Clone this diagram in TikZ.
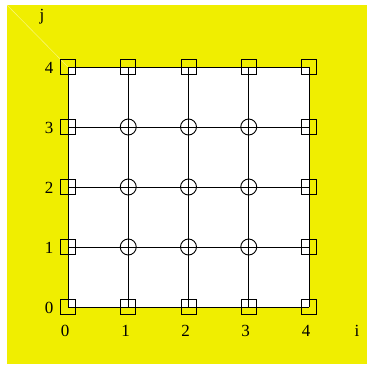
\documentclass[tikz,border=0pt]{standalone}
\usepackage{fontspec}
\setmainfont{Liberation Serif}
\definecolor{bgyellow}{RGB}{240,238,0}
\definecolor{diagline}{RGB}{248,246,110}
\begin{document}
\begin{tikzpicture}[x=1pt,y=-1pt,
  bnd/.style={draw=black,line width=0.9pt,minimum size=15pt,inner sep=0pt,rectangle},
  inr/.style={draw=black,line width=0.9pt,minimum size=16pt,inner sep=0pt,circle},
  gridline/.style={draw=black,line width=0.8pt},
  lbl/.style={font=\fontsize{17}{19}\selectfont,inner sep=0pt}]
\useasboundingbox (0,0) rectangle (367,365);
\fill[bgyellow] (7,5) rectangle (367,364);
\coordinate (tl) at (7,5);
% grid points
\foreach \i/\x in {0/68,1/128.25,2/188.5,3/248.75,4/309}{
  \foreach \j/\y in {0/307,1/247,2/187,3/127,4/67}{
    \coordinate (c\i\j) at (\x,\y);
  }
}
\fill[white] (c04) rectangle (c40);
\draw[diagline,line width=0.6pt] (tl) -- (c04);
% grid lines
\foreach \k in {0,...,4}{
  \draw[gridline] (c0\k) -- (c4\k);
  \draw[gridline] (c\k0) -- (c\k4);
}
% nodes
\foreach \i in {0,...,4}{
  \foreach \j in {0,...,4}{
    \pgfmathtruncatemacro{\isb}{(\i==0 || \i==4 || \j==0 || \j==4) ? 1 : 0}
    \ifnum\isb=1
      \node[bnd] (n\i\j) at (c\i\j) {};
    \else
      \node[inr] (n\i\j) at (c\i\j) {};
    \fi
  }
}
% axis labels
\foreach \i/\x in {0/65,1/125.5,2/185.5,3/245.5,4/306}{
  \node[lbl] (xl\i) at (\x,330.5) {\i};
}
\foreach \j/\y in {0/307.5,1/247.5,2/187.5,3/127.5,4/67.5}{
  \node[lbl] (yl\j) at (49,\y) {\j};
}
\node[lbl] (li) at (357,330.5) {i};
\node[lbl] (lj) at (42,17) {j};
\end{tikzpicture}
\end{document}
